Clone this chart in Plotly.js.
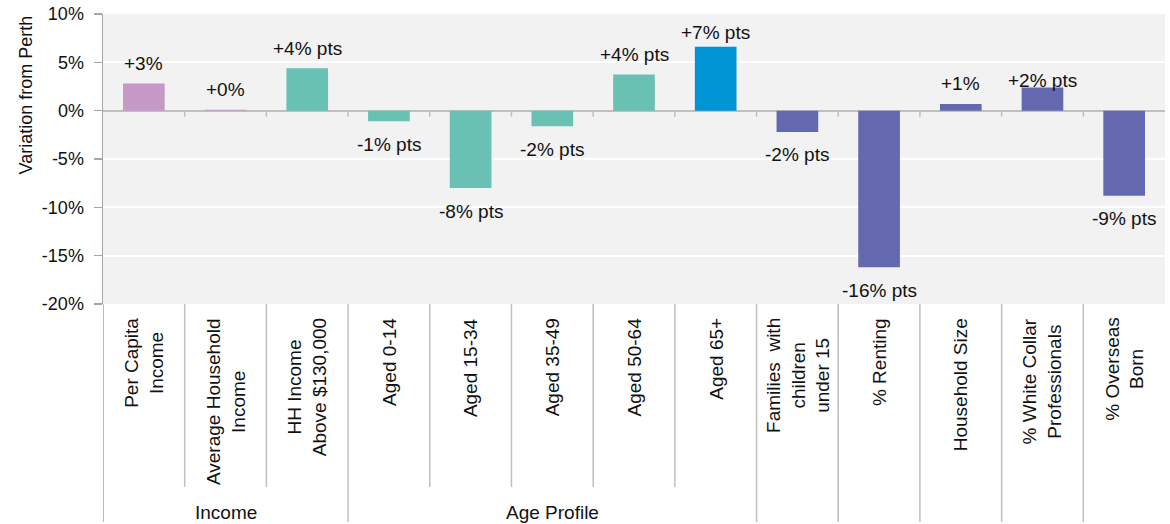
<!DOCTYPE html>
<html>
<head>
<meta charset="utf-8">
<script src="https://cdn.plot.ly/plotly-3.0.1.min.js"></script>
<style>
  html, body { margin: 0; padding: 0; background: #ffffff; }
  #chart { width: 1170px; height: 524px; }
</style>
</head>
<body>
<div id="chart"></div>
<script>
// Profile metrics, expressed as variation from the Perth average
const categories = [
  'Per Capita<br>Income',
  'Average Household<br>Income',
  'HH Income<br>Above $130,000',
  'Aged 0-14',
  'Aged 15-34',
  'Aged 35-49',
  'Aged 50-64',
  'Aged 65+',
  'Families  with<br>children<br>under 15',
  '% Renting',
  'Household Size',
  '% White Collar<br>Professionals',
  '% Overseas<br>Born'
];
const variation = [2.8, 0.1, 4.4, -1.1, -8.0, -1.6, 3.75, 6.6, -2.2, -16.2, 0.7, 2.4, -8.8];
const unitSuffix = ['', '', ' pts', ' pts', ' pts', ' pts', ' pts', ' pts', ' pts', ' pts', '', ' pts', ' pts'];

// Category groups shown beneath the labels (index ranges, inclusive)
const groupNames = ['Income', 'Age Profile'];
const groupStart = [0, 3];
const groupEnd = [2, 7];

const yTickValues = [-20, -15, -10, -5, 0, 5, 10];

// Styling
const PINK = '#C598C5', TEAL = '#68C1B3', BLUE = '#0094D5', SLATE = '#6469AF';
const barColors = [PINK, PINK, TEAL, TEAL, TEAL, TEAL, TEAL, BLUE, SLATE, SLATE, SLATE, SLATE, SLATE];
const labelLift = { 7: -6, 11: -13 };   // pull crowded labels closer to their bars
const FONT = 'Liberation Sans, Arial, sans-serif';
const SEP = '#BFBFBF';

const xIdx = categories.map((_, i) => i);

function fmtLabel(v, i) {
  const r = Math.round(Math.abs(v));
  return (v < 0 ? '-' : '+') + r + '%' + unitSuffix[i];
}

const annotations = [];

// value labels
variation.forEach((v, i) => {
  const base = v >= 0 ? 20 : -23;
  annotations.push({
    x: i, y: v, xref: 'x', yref: 'y',
    text: fmtLabel(v, i), showarrow: false,
    xanchor: 'center', yanchor: 'middle',
    yshift: base + (labelLift[i] || 0),
    font: { family: FONT, size: 19, color: '#111' }
  });
});

// rotated category labels
categories.forEach((c, i) => {
  annotations.push({
    x: i, y: 0, xref: 'x', yref: 'paper',
    text: c, showarrow: false, textangle: -90,
    xanchor: 'center', yanchor: 'top', align: 'center',
    yshift: -12,
    font: { family: FONT, size: 19, color: '#111' }
  });
});

// group labels
groupNames.forEach((g, k) => {
  annotations.push({
    x: (groupStart[k] + groupEnd[k]) / 2, y: 0, xref: 'x', yref: 'paper',
    text: g, showarrow: false, xanchor: 'center', yanchor: 'middle',
    yshift: -208,
    font: { family: FONT, size: 19, color: '#111' }
  });
});

// y-axis title
annotations.push({
  x: 0, y: 1, xref: 'paper', yref: 'paper',
  text: 'Variation from Perth', showarrow: false, textangle: -90,
  xanchor: 'center', yanchor: 'top', xshift: -78, yshift: 0,
  font: { family: FONT, size: 18, color: '#111' }
});

function groupOf(i) {
  for (let k = 0; k < groupNames.length; k++) {
    if (i >= groupStart[k] && i <= groupEnd[k]) return k;
  }
  return -1 - i;
}

const shapes = [];
// separators in the label area: short inside a group, full length between groups
for (let i = -1; i < categories.length - 1; i++) {
  const inside = i >= 0 && groupOf(i) === groupOf(i + 1) && groupOf(i) >= 0;
  shapes.push({
    type: 'line', xref: 'x', yref: 'paper', ysizemode: 'pixel', yanchor: 0,
    x0: i + 0.5, x1: i + 0.5, y0: 0, y1: inside ? -183 : -218,
    line: { color: i === -1 ? '#A6A6A6' : SEP, width: 1.5 }
  });
}
// small tick marks hanging below the zero line
for (let i = 0; i < categories.length - 1; i++) {
  shapes.push({
    type: 'line', xref: 'x', yref: 'y', ysizemode: 'pixel', yanchor: 0,
    x0: i + 0.5, x1: i + 0.5, y0: 0, y1: -6,
    line: { color: SEP, width: 1.5 }
  });
}

const trace = {
  type: 'bar',
  x: xIdx,
  y: variation,
  marker: { color: barColors, line: { width: 0 } },
  width: 0.51,
  hoverinfo: 'skip'
};

const layout = {
  width: 1170, height: 524,
  margin: { l: 103, r: 5, t: 14, b: 220, pad: 0 },
  paper_bgcolor: '#ffffff',
  plot_bgcolor: '#F2F2F2',
  showlegend: false,
  font: { family: FONT, size: 18, color: '#111' },
  xaxis: {
    range: [-0.5, categories.length - 0.5],
    showticklabels: false, showgrid: false, zeroline: false,
    ticks: '', showline: false, fixedrange: true
  },
  yaxis: {
    range: [-20, 10],
    tickvals: yTickValues,
    ticktext: yTickValues.map(v => (v < 0 ? '-' : '') + Math.abs(v) + '%'),
    tickfont: { family: FONT, size: 18, color: '#111' },
    ticks: 'outside', ticklen: 8, tickcolor: '#A6A6A6', tickwidth: 1.5,
    ticklabelstandoff: 6,
    showline: true, linecolor: '#A6A6A6', linewidth: 1.5,
    showgrid: true, gridcolor: '#ffffff', gridwidth: 2,
    zeroline: true, zerolinecolor: SEP, zerolinewidth: 2,
    fixedrange: true
  },
  annotations: annotations,
  shapes: shapes
};

Plotly.newPlot('chart', [trace], layout, { staticPlot: true, displayModeBar: false });
</script>
</body>
</html>
